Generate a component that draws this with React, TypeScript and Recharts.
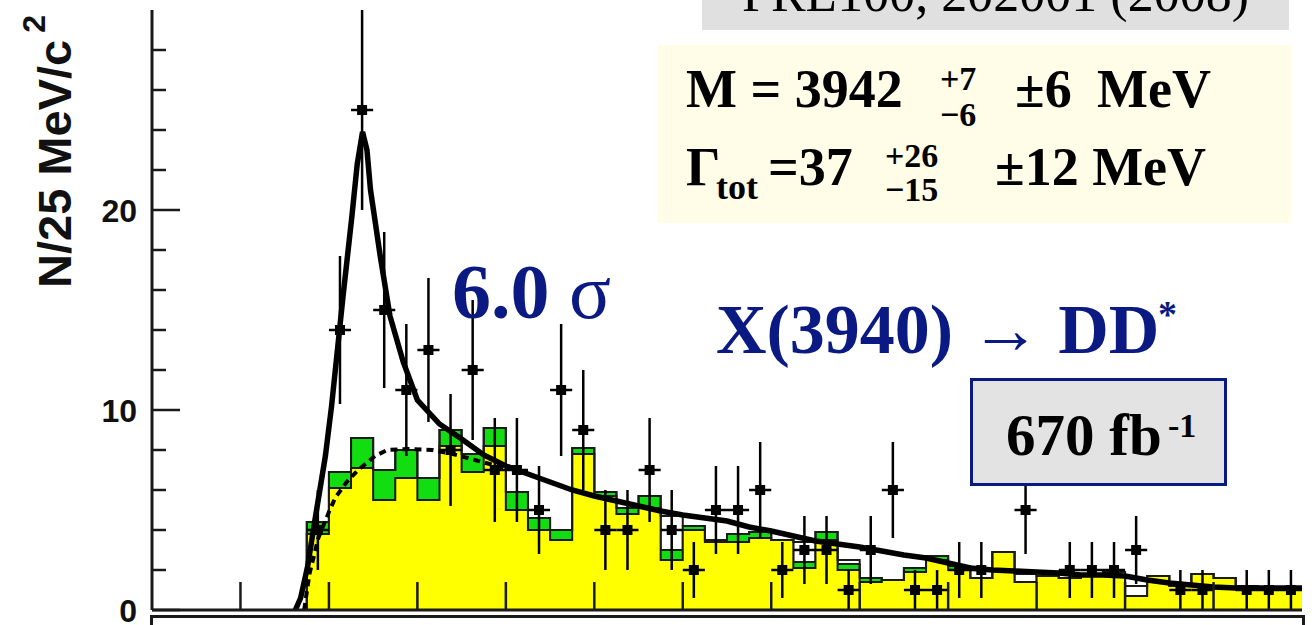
import React from 'react';
import { ComposedChart, XAxis, YAxis, Area, Line, Scatter, ErrorBar } from 'recharts';

// ---------- axis setup ----------
const X_MIN = 3.7;
const X_MAX = 5.0;
const BIN_WIDTH = 0.025;
const N_BINS = 52;
const Y_MAX = 30;

const xTicks = [3.8, 3.9, 4.0, 4.1, 4.2, 4.3, 4.4, 4.5, 4.6, 4.7, 4.8, 4.9];
const yTicks = [0, 2, 4, 6, 8, 10, 12, 14, 16, 18, 20, 22, 24, 26, 28];
const yLabelTicks = [0, 10, 20];

// ---------- data (per 25 MeV bin, bins start at 3.700 GeV) ----------
const dataCounts: (number | null)[] = [
  null, null, null, null, null, null, null,
  4, 14, 25, 15, 11, 13, 8, 12, 7, 7, 5, 11, 9, 4, 4, 7, 4, 2, 5, 5, 6, 2, 3, 3, 1, 3, 6,
  1, 1, 2, 2, null, 5, null, 2, 2, 2, 3, null, 1, 1, null, 1, 1, 1,
];
const dataErrors: (number | null)[] = [
  null, null, null, null, null, null, null,
  2.0, 3.7, 5.0, 3.9, 3.3, 3.6, 2.8, 3.5, 2.6, 2.6, 2.2, 3.3, 3.0, 2.0, 2.0, 2.6, 2.0, 1.4, 2.2, 2.2, 2.4, 1.4, 1.7, 1.7, 1.0, 1.7, 2.4,
  1.0, 1.0, 1.4, 1.4, null, 2.2, null, 1.4, 1.4, 1.4, 1.7, null, 1.0, 1.0, null, 1.0, 1.0, 1.0,
];
const yellowHist = [
  0, 0, 0, 0, 0, 0, 0,
  3.8, 6.1, 7.1, 5.5, 6.6, 5.5, 8.2, 6.9, 8.2, 5.0, 4.0, 3.5, 7.8, 5.7, 4.8, 5.1, 2.5, 4.0, 3.4, 3.4, 3.6, 3.5, 2.1, 3.5, 2.0, 1.4, 1.5,
  1.9, 2.5, 2.0, 1.6, 2.9, 1.4, 1.7, 1.6, 1.8, 1.7, 0.7, 1.7, 1.2, 1.8, 1.6, 1.2, 1.1, 1.1,
];
const greenHist = [
  0, 0, 0, 0, 0, 0, 0,
  4.4, 6.9, 8.6, 7.0, 8.0, 6.6, 9.0, 7.8, 9.1, 5.9, 4.6, 4.0, 8.1, 5.9, 5.1, 5.7, 3.0, 4.2, 3.5, 3.8, 3.9, 3.5, 2.4, 3.9, 2.3, 1.6, 1.5,
  2.1, 2.7, 2.2, 1.6, 2.9, 1.4, 1.7, 1.6, 1.8, 1.7, 0.7, 1.7, 1.2, 1.8, 1.6, 1.2, 1.1, 1.1,
];
const outlineHist = [
  0, 0, 0, 0, 0, 0, 0,
  4.4, 6.9, 8.6, 7.0, 8.0, 6.6, 9.0, 7.8, 9.1, 5.9, 4.6, 4.0, 8.1, 5.9, 5.1, 5.7, 4.7, 4.2, 3.5, 3.8, 3.9, 3.5, 3.4, 3.9, 2.5, 1.6, 1.5,
  2.1, 2.7, 2.2, 1.6, 2.9, 1.8, 1.7, 1.6, 1.8, 1.9, 1.2, 1.7, 1.2, 1.8, 1.6, 1.2, 1.1, 1.1,
];

// fitted curves: [mass GeV, N]
const fitCurve: [number, number][] = [
  [3.862, 0], [3.868, 0.6], [3.876, 2.2], [3.882, 3.9], [3.889, 5.8], [3.896, 7.7], [3.903, 10.2],
  [3.907, 11.9], [3.916, 15.7], [3.926, 19.7], [3.932, 22.3], [3.938, 23.9], [3.943, 23.0],
  [3.947, 21.0], [3.958, 17.7], [3.969, 14.7], [3.984, 12.4], [4.0, 10.5], [4.025, 9.3],
  [4.05, 8.55], [4.075, 7.75], [4.1, 7.2], [4.125, 6.8], [4.15, 6.4], [4.175, 6.0], [4.2, 5.7],
  [4.225, 5.45], [4.25, 5.2], [4.275, 4.95], [4.3, 4.75], [4.325, 4.6], [4.35, 4.45], [4.375, 4.15],
  [4.4, 3.95], [4.425, 3.7], [4.45, 3.45], [4.475, 3.3], [4.5, 3.15], [4.525, 2.95], [4.55, 2.75],
  [4.575, 2.6], [4.6, 2.35], [4.625, 2.1], [4.65, 2.0], [4.675, 1.95], [4.7, 1.9], [4.725, 1.85],
  [4.75, 1.75], [4.775, 1.75], [4.8, 1.7], [4.825, 1.5], [4.85, 1.35], [4.875, 1.25], [4.9, 1.15],
  [4.925, 1.1], [4.95, 1.1], [4.975, 1.1], [5.0, 1.1],
];
const bkgCurve: [number, number][] = [
  [3.872, 0], [3.878, 1.8], [3.888, 3.6], [3.9, 4.9], [3.907, 5.6], [3.92, 6.4], [3.933, 7.0],
  [3.952, 7.7], [3.966, 8.0], [3.99, 8.05], [4.017, 8.0], [4.04, 7.8], [4.065, 7.5], [4.09, 7.2], [4.1, 7.1],
];

// ---------- derived tables ----------
const binEdges = Array.from({ length: N_BINS + 1 }, (_, i) => +(X_MIN + i * BIN_WIDTH).toFixed(4));
const histRows = (vals: number[]) => [
  ...vals.map((v, i) => ({ x: binEdges[i], v })),
  { x: binEdges[N_BINS], v: vals[N_BINS - 1] },
];
const yellowRows = histRows(yellowHist);
const greenRows = histRows(greenHist);
const outlineRows = histRows(outlineHist);
const fitRows = fitCurve.map(([x, v]) => ({ x, v }));
const bkgRows = bkgCurve.map(([x, v]) => ({ x, v }));
const pointRows = dataCounts
  .map((c, i) =>
    c == null ? null : { x: +(X_MIN + (i + 0.5) * BIN_WIDTH).toFixed(5), y: c, ey: dataErrors[i], ex: BIN_WIDTH / 2 }
  )
  .filter((r) => r !== null) as { x: number; y: number; ey: number; ex: number }[];

// ---------- styling ----------
const INK = '#1a1a1a';
const NAVY = '#0b1a82';
const SERIF = "'Liberation Serif', 'Times New Roman', Times, serif";
const SANS = "'Liberation Sans', Arial, Helvetica, sans-serif";

const YTick = (props: any) => {
  const { x, y, payload } = props;
  const v = payload.value as number;
  const major = yLabelTicks.includes(v);
  return (
    <g>
      <line x1={x} x2={x + (major ? 28 : 14)} y1={y} y2={y} stroke={INK} strokeWidth={2.5} />
      {major && (
        <text x={x - 15} y={y + 12} textAnchor="end" fontSize={32} fontWeight="bold" fontFamily={SANS} fill="#111">
          {v}
        </text>
      )}
    </g>
  );
};

const XTick = (props: any) => {
  const { x, y } = props;
  return <line x1={x} x2={x} y1={y} y2={y - 28} stroke={INK} strokeWidth={2.5} />;
};

const SquareMarker = (props: any) => {
  const { cx, cy } = props;
  return <rect x={cx - 5} y={cy - 5} width={10} height={10} fill="#000" />;
};

const Txt = ({
  left, base, size, children, weight = 'bold', color = '#000', family = SERIF,
}: { left: number; base: number; size: number; children: React.ReactNode; weight?: string; color?: string; family?: string }) => (
  <div
    style={{
      position: 'absolute', left, top: base - 0.8375 * size, fontSize: size, lineHeight: `${size}px`,
      fontFamily: family, fontWeight: weight as any, color, whiteSpace: 'nowrap',
    }}
  >
    {children}
  </div>
);

export default function App() {
  return (
    <div style={{ position: 'absolute', left: 0, top: 0, width: 1315, height: 625, background: '#fff', overflow: 'hidden' }}>
      <ComposedChart width={1315} height={625} margin={{ top: 10, right: 13, bottom: 0, left: 0 }}>
        <Area data={greenRows} dataKey="v" type="stepAfter" fill="#11dd11" fillOpacity={1} stroke={INK} strokeWidth={2} isAnimationActive={false} />
        <Area data={yellowRows} dataKey="v" type="stepAfter" fill="#ffff00" fillOpacity={1} stroke={INK} strokeWidth={2} isAnimationActive={false} />
        <Line data={outlineRows} dataKey="v" type="stepAfter" stroke={INK} strokeWidth={2} dot={false} isAnimationActive={false} />
        <Line data={bkgRows} dataKey="v" type="linear" stroke="#000" strokeWidth={4} strokeDasharray="7 5" dot={false} isAnimationActive={false} />
        <Line data={fitRows} dataKey="v" type="linear" stroke="#000" strokeWidth={5.5} dot={false} isAnimationActive={false} />
        <Scatter data={pointRows} dataKey="y" fill="#000" shape={<SquareMarker />} isAnimationActive={false}>
          <ErrorBar dataKey="ey" direction="y" width={0} stroke="#000" strokeWidth={2.5} />
          <ErrorBar dataKey="ex" direction="x" width={0} stroke="#000" strokeWidth={2.5} />
        </Scatter>
        <XAxis
          dataKey="x" type="number" domain={[X_MIN, X_MAX]} allowDataOverflow ticks={xTicks} interval={0}
          height={15} tickSize={0} tickMargin={0} tickLine={false} tick={<XTick />}
          axisLine={{ stroke: INK, strokeWidth: 3 }}
        />
        <XAxis xAxisId="top" orientation="top" type="number" domain={[X_MIN, X_MAX]} height={0} tick={false} tickLine={false} axisLine={{ stroke: INK, strokeWidth: 3 }} />
        <YAxis
          type="number" domain={[0, Y_MAX]} allowDataOverflow ticks={yTicks} interval={0} width={152}
          tickSize={0} tickMargin={0} tickLine={false} tick={<YTick />} axisLine={{ stroke: INK, strokeWidth: 3 }}
        />
        <YAxis yAxisId="right" orientation="right" type="number" domain={[0, Y_MAX]} width={0} tick={false} tickLine={false} axisLine={{ stroke: INK, strokeWidth: 3 }} />
      </ComposedChart>

      {/* lower panel frame (cut off) */}
      <div style={{ position: 'absolute', left: 150, top: 615, width: 1149, height: 30, borderTop: `3px solid ${INK}`, borderLeft: `3px solid ${INK}`, borderRight: `3px solid ${INK}` }} />

      {/* y-axis title */}
      <div
        style={{
          position: 'absolute', left: 71 - 0.8465 * 47, top: 288, transformOrigin: '0 0', transform: 'rotate(-90deg)',
          fontFamily: SANS, fontWeight: 'bold', fontSize: 47, lineHeight: '47px', whiteSpace: 'nowrap', color: '#111',
        }}
      >
        N/25 MeV/c<span style={{ fontSize: 32, position: 'relative', top: -26, marginLeft: 7 }}>2</span>
      </div>

      {/* reference box at top */}
      <div style={{ position: 'absolute', left: 702, top: -20, width: 587, height: 50, background: '#e0e0e0' }} />
      <div style={{ position: 'absolute', left: 702, width: 587, top: 12 - 0.8375 * 52, fontSize: 52, lineHeight: '52px', fontFamily: SERIF, textAlign: 'center', color: '#000', whiteSpace: 'nowrap' }}>
        PRL100, 202001 (2008)
      </div>

      {/* fit result box */}
      <div style={{ position: 'absolute', left: 658, top: 45, width: 633, height: 178, background: '#fffde8' }} />
      <Txt left={686} base={107} size={54}>M = 3942</Txt>
      <Txt left={940} base={90} size={34}>+7</Txt>
      <Txt left={940} base={126} size={34}>−6</Txt>
      <Txt left={1015} base={107} size={54}>±6</Txt>
      <Txt left={1097} base={107} size={54}>MeV</Txt>
      <Txt left={686} base={185} size={54}>Γ</Txt>
      <Txt left={716} base={199} size={36}>tot</Txt>
      <Txt left={768} base={185} size={54}>=37</Txt>
      <Txt left={885} base={167} size={34}>+26</Txt>
      <Txt left={885} base={201} size={34}>−15</Txt>
      <Txt left={995} base={185} size={54}>±12 MeV</Txt>

      {/* significance */}
      <Txt left={452} base={318} size={78} color={NAVY}>
        6.0 <span style={{ fontWeight: 'normal' }}>σ</span>
      </Txt>

      {/* decay label */}
      <Txt left={716} base={354} size={70} color={NAVY}>X(3940) → DD</Txt>
      <Txt left={1158} base={327} size={38} color={NAVY}>*</Txt>

      {/* luminosity box */}
      <div style={{ position: 'absolute', left: 970, top: 378, width: 251, height: 102, background: '#e3e3e3', border: `3px solid ${NAVY}` }} />
      <Txt left={1006} base={455} size={59}>670 fb</Txt>
      <Txt left={1168} base={437} size={34}>-1</Txt>
    </div>
  );
}
